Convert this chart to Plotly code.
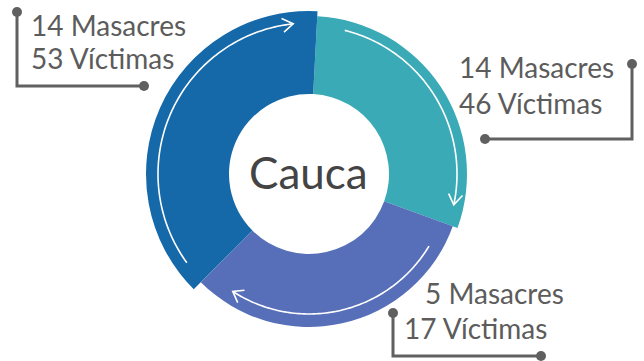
import numpy as np
import plotly.graph_objects as go

# data
masacres = [14, 14, 5]
victimas = [53, 46, 17]
center_label = "Cauca"

# arc sizes (degrees) as drawn in the infographic, clockwise from the top
segment_names = ["derecha", "abajo", "izquierda"]
arc_span = [107, 115, 138]
arc_start = 3
seg_outer = [158, 153, 163]
seg_colors = ["#3aabb6", "#566fb8", "#1569a9"]

W, H = 644, 361
cx, cy, R = 309, 174, 170
inner = 80
grey = "#606060"
font = "Lato, 'Open Sans', sans-serif"


def px(x):
    return x / W


def py(y):
    return 1 - y / H


fig = go.Figure()

# ring segments
theta_c = []
a = arc_start
for s in arc_span:
    theta_c.append(a + s / 2)
    a += s
fig.add_trace(go.Barpolar(
    theta=theta_c, width=arc_span,
    base=[inner] * 3, r=[o - inner for o in seg_outer],
    marker=dict(color=seg_colors, line=dict(width=0)),
    hoverinfo="skip", showlegend=False,
))

# white clockwise arrows inside each segment
arrows = [(14, 102, 148), (121, 213, 140), (234, 354, 151)]
for t0, t1, r in arrows:
    th = np.arange(t0, t1 + 0.5, 1.0)
    fig.add_trace(go.Scatterpolar(
        theta=th, r=[r] * len(th), mode="lines",
        line=dict(color="white", width=1.6),
        hoverinfo="skip", showlegend=False,
    ))
    d = 4.0
    fig.add_trace(go.Scatterpolar(
        theta=[t1 - d, t1, t1 - d], r=[r + 7, r, r - 7], mode="lines",
        line=dict(color="white", width=1.6),
        hoverinfo="skip", showlegend=False,
    ))

fig.update_layout(
    width=W, height=H,
    margin=dict(l=0, r=0, t=0, b=0),
    paper_bgcolor="white", plot_bgcolor="white",
    polar=dict(
        domain=dict(x=[px(cx - R), px(cx + R)], y=[1 - (cy + R) / H, 1 - (cy - R) / H]),
        bgcolor="rgba(0,0,0,0)",
        radialaxis=dict(range=[0, R], visible=False, showgrid=False),
        angularaxis=dict(rotation=90, direction="clockwise", visible=False, showgrid=False),
        barmode="overlay",
    ),
)

annotations = []
annotations.append(dict(
    x=px(cx - 1), y=py(cy - 2), xref="paper", yref="paper", text=center_label,
    showarrow=False, xanchor="center", yanchor="middle",
    font=dict(family=font, size=44, color="#444444"),
))

# label text positions (left x, center y of each line)
label_pos = [((29, 25), (29, 58)), ((457, 67), (457, 103)), ((423, 293), (402, 328))]
for i in range(3):
    (x1, y1), (x2, y2) = label_pos[i]
    for (x, y), txt in [((x1, y1), f"{masacres[i]} Masacres"), ((x2, y2), f"{victimas[i]} Víctimas")]:
        annotations.append(dict(
            x=px(x), y=py(y), xref="paper", yref="paper", text=txt,
            showarrow=False, xanchor="left", yanchor="middle",
            font=dict(family=font, size=28, color="#5c5c5c"),
        ))
fig.update_layout(annotations=annotations)

# leader lines with dots
leaders = [
    [(17, 12), (17, 86), (144, 86)],
    [(632, 64), (632, 139), (485, 139)],
    [(393, 313), (393, 356), (541, 356)],
]
shapes = []
for pts in leaders:
    path = "M " + " L ".join(f"{px(x)} {py(y)}" for x, y in pts)
    shapes.append(dict(type="path", xref="paper", yref="paper", path=path,
                       line=dict(color=grey, width=3)))
    for x, y in (pts[0], pts[-1]):
        shapes.append(dict(type="circle", xref="paper", yref="paper",
                           x0=px(x - 5), x1=px(x + 5), y0=py(y + 5), y1=py(y - 5),
                           fillcolor=grey, line=dict(width=0)))
fig.update_layout(shapes=shapes)

fig.write_html("out.html", config={"displayModeBar": False},
               post_script="document.body.style.margin='0';")
